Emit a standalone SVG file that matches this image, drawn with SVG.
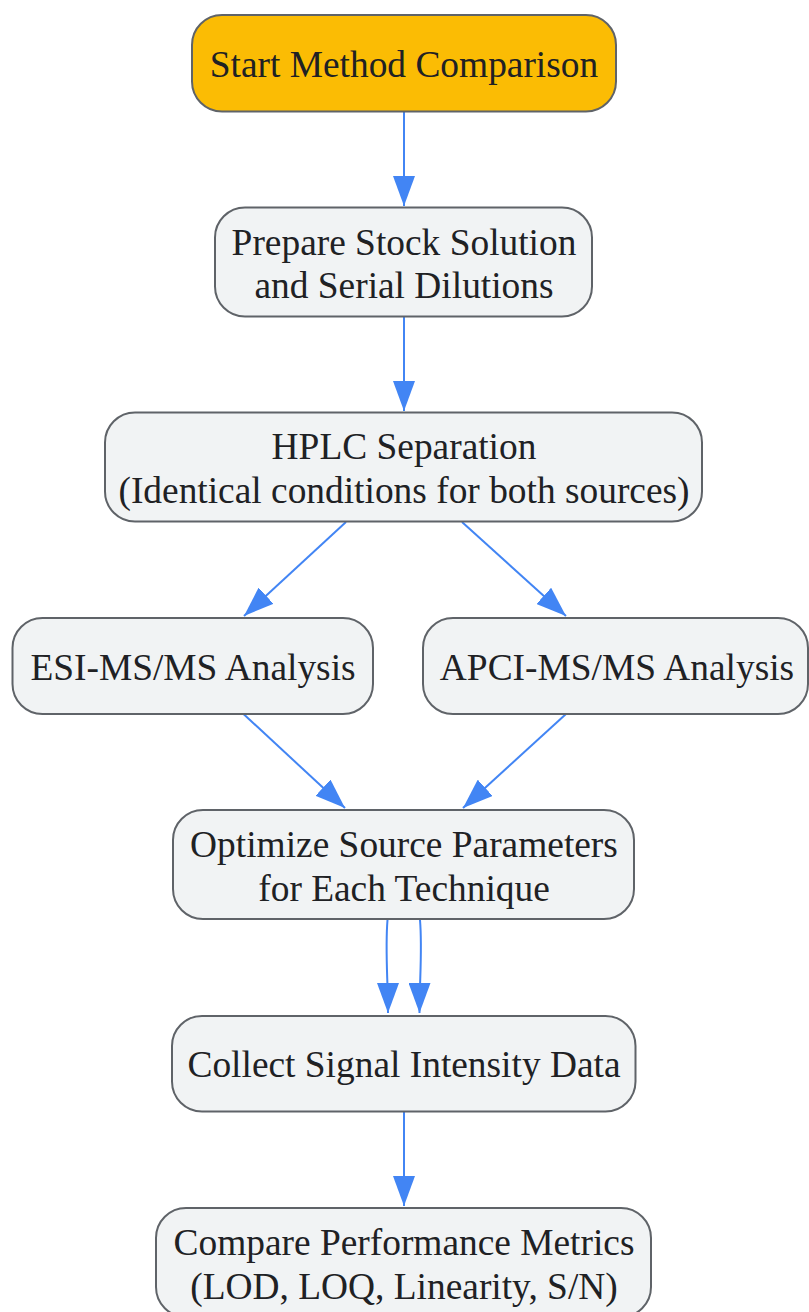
<svg xmlns="http://www.w3.org/2000/svg" width="809" height="1312" viewBox="0 0 809 1312">
<defs>
<style>
.node rect{fill:#f1f3f4;stroke:#5f6368;stroke-width:2}
.node.start rect{fill:#fbbc04}
.node text{font-family:"Liberation Serif","Times New Roman",serif;font-size:37.4px;fill:#202124;text-anchor:middle}
.edge{fill:none;stroke:#4285f4;stroke-width:2;marker-end:url(#arrow)}
</style>
<marker id="arrow" viewBox="0 0 30 22" refX="30" refY="11" markerWidth="30" markerHeight="22" markerUnits="userSpaceOnUse" orient="auto" preserveAspectRatio="none">
<path d="M0,0 L30,11 L0,22 z" fill="#4285f4"/>
</marker>
</defs>
<rect width="809" height="1312" fill="#ffffff"/>
<g id="connectors">
<path class="edge" d="M404,111 L404,206"/>
<path class="edge" d="M404,317 L404,411"/>
<path class="edge" d="M346,522 L244,616"/>
<path class="edge" d="M462,522 L566,616"/>
<path class="edge" d="M243.5,714 L345,808"/>
<path class="edge" d="M566,714 L463,808"/>
<path class="edge" d="M387.5,920 C385,950 388,980 388,1013"/>
<path class="edge" d="M420,920 C422.5,950 419.5,980 419.5,1013"/>
<path class="edge" d="M404,1112 L404,1206"/>
</g>
<g id="start" class="node start">
<rect x="192" y="15" width="424" height="96.5" rx="30" ry="30"/>
<text x="404" y="77">Start Method Comparison</text>
</g>
<g id="prepare" class="node">
<rect x="215" y="207.5" width="377" height="109" rx="30" ry="30"/>
<text x="404" y="254.5">Prepare Stock Solution</text>
<text x="404" y="298">and Serial Dilutions</text>
</g>
<g id="hplc" class="node">
<rect x="105" y="412.5" width="597" height="109" rx="30" ry="30"/>
<text x="404" y="459">HPLC Separation</text>
<text x="404" y="503">(Identical conditions for both sources)</text>
</g>
<g id="esi" class="node">
<rect x="12.5" y="618" width="360.5" height="96" rx="30" ry="30"/>
<text x="193" y="680">ESI-MS/MS Analysis</text>
</g>
<g id="apci" class="node">
<rect x="423" y="618" width="385" height="96" rx="30" ry="30"/>
<text x="617" y="680">APCI-MS/MS Analysis</text>
</g>
<g id="optimize" class="node">
<rect x="173" y="810" width="461" height="109" rx="30" ry="30"/>
<text x="404" y="857">Optimize Source Parameters</text>
<text x="404" y="901">for Each Technique</text>
</g>
<g id="collect" class="node">
<rect x="172" y="1016" width="463.5" height="95.5" rx="30" ry="30"/>
<text x="404" y="1077">Collect Signal Intensity Data</text>
</g>
<g id="compare" class="node">
<rect x="156" y="1208" width="495" height="109" rx="30" ry="30"/>
<text x="404" y="1254.5">Compare Performance Metrics</text>
<text x="404" y="1298.5">(LOD, LOQ, Linearity, S/N)</text>
</g>
</svg>
